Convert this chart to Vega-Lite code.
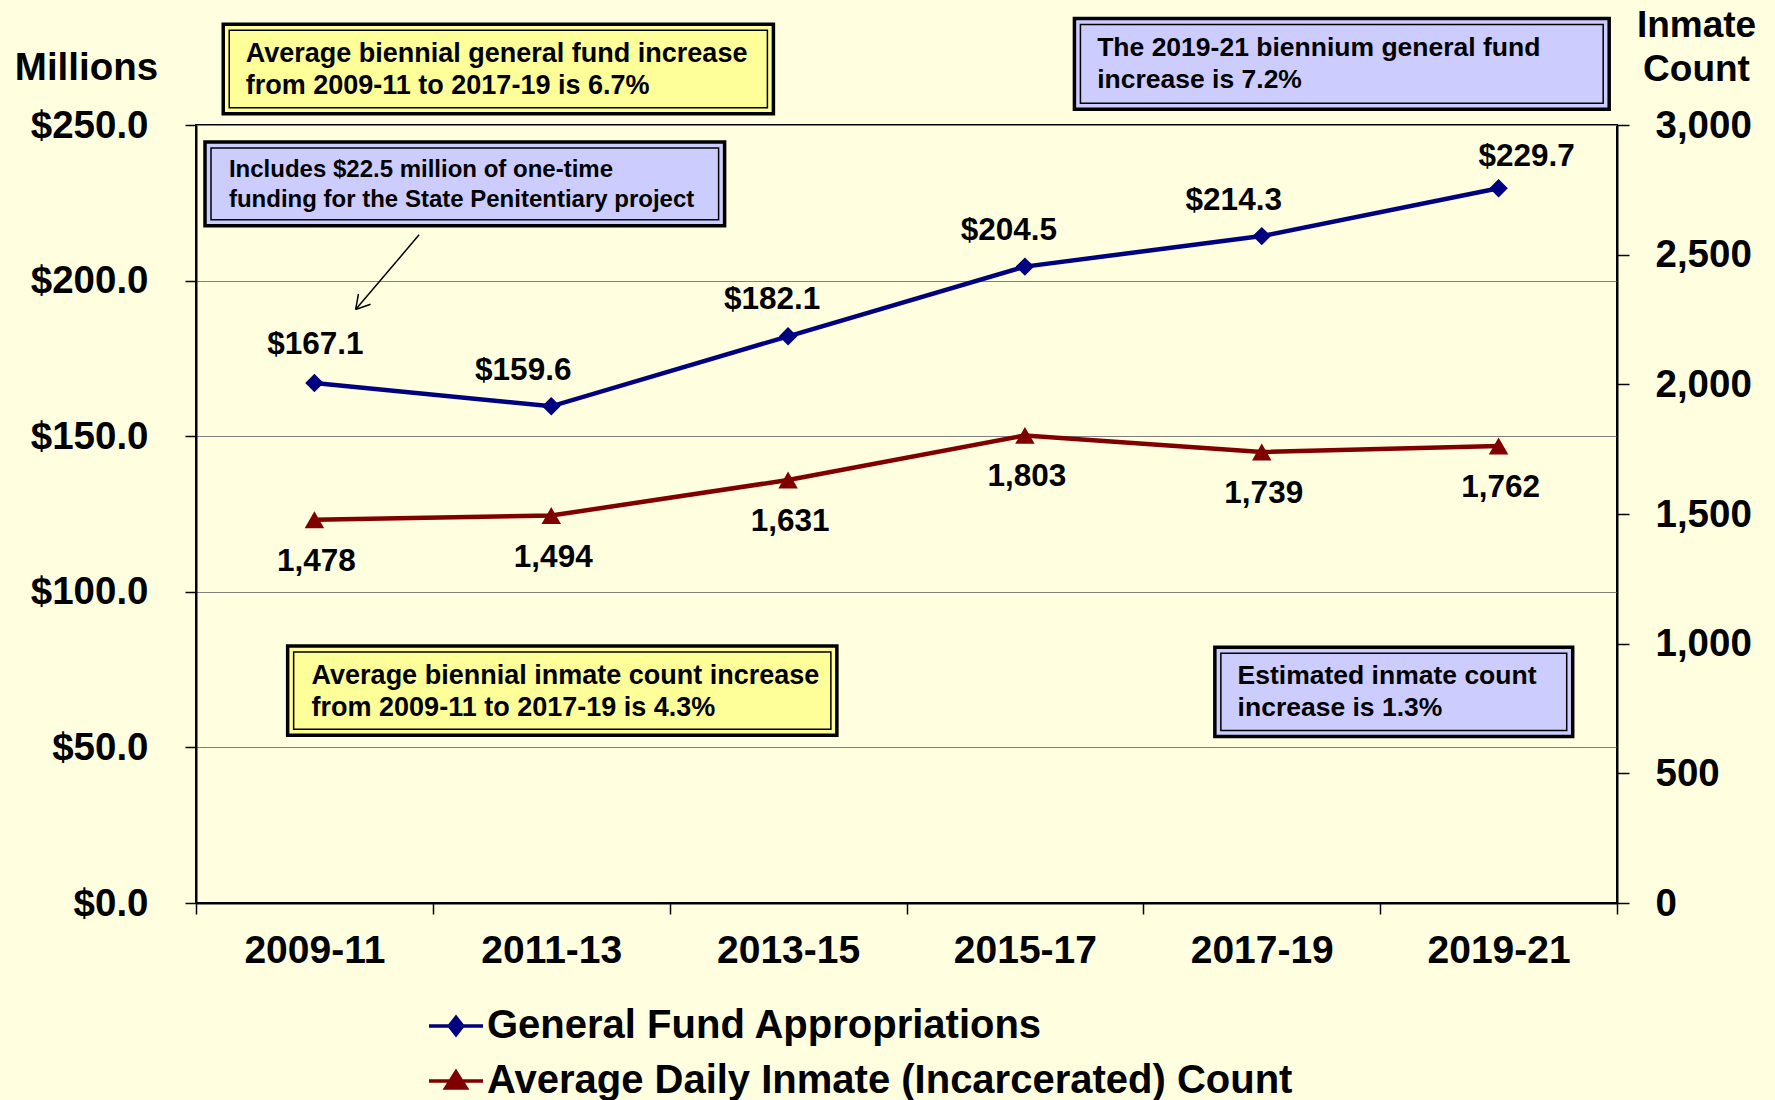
{
  "$schema": "https://vega.github.io/schema/vega-lite/v6.json",
  "width": 1421,
  "height": 778,
  "autosize": {"type": "none"},
  "padding": {"left": 196, "top": 125, "right": 158, "bottom": 197},
  "background": "#FFFFE0",
  "config": {
    "font": "Liberation Sans",
    "view": {"stroke": "#000000", "strokeWidth": 2},
    "axis": {
      "labelFont": "Liberation Sans",
      "labelFontWeight": "bold",
      "labelColor": "#000000",
      "titleFont": "Liberation Sans",
      "titleFontWeight": "bold",
      "titleColor": "#000000",
      "domainColor": "#000000",
      "domainWidth": 2,
      "tickColor": "#000000",
      "tickWidth": 1.5
    },
    "text": {"font": "Liberation Sans", "fontWeight": "bold", "color": "#000000"}
  },
  "datasets": {
    "biennia": [
      {"biennium": "2009-11", "fund": 167.1, "inmates": 1478},
      {"biennium": "2011-13", "fund": 159.6, "inmates": 1494},
      {"biennium": "2013-15", "fund": 182.1, "inmates": 1631},
      {"biennium": "2015-17", "fund": 204.5, "inmates": 1803},
      {"biennium": "2017-19", "fund": 214.3, "inmates": 1739},
      {"biennium": "2019-21", "fund": 229.7, "inmates": 1762}
    ]
  },
  "layer": [
    {
      "data": {"name": "biennia"},
      "encoding": {
        "x": {
          "field": "biennium", "type": "nominal", "sort": null,
          "scale": {"type": "band", "paddingInner": 0, "paddingOuter": 0},
          "axis": {"title": null, "labelAngle": 0, "labelFontSize": 39, "tickBand": "extent", "tickSize": 11, "labelPadding": 17}
        },
        "y": {
          "field": "fund", "type": "quantitative",
          "scale": {"domain": [0, 250], "nice": false, "zero": true},
          "axis": {
            "orient": "left", "values": [0, 50, 100, 150, 200, 250], "format": "$.1f",
            "labelFontSize": 38.5, "tickSize": 11, "labelPadding": 37,
            "grid": true, "gridColor": "#808080", "gridWidth": 1,
            "title": "Millions", "titleAngle": 0, "titleAlign": "center", "titleBaseline": "middle",
            "titleX": -110, "titleY": -58, "titleFontSize": 38.5
          }
        }
      },
      "layer": [
        {
          "mark": {"type": "line", "strokeWidth": 4.5, "point": {"shape": "diamond", "filled": true, "size": 340}},
          "encoding": {
            "color": {
              "datum": "General Fund Appropriations",
              "scale": {"domain": ["General Fund Appropriations", "Average Daily Inmate (Incarcerated) Count"], "range": ["#000080", "#800000"]},
              "legend": {
                "orient": "none", "legendX": 231, "legendY": 872, "direction": "vertical", "title": null,
                "labelFontSize": 40, "labelFont": "Liberation Sans", "labelFontWeight": "bold", "labelColor": "#000000",
                "symbolSize": 2916, "symbolStrokeWidth": 3.5, "labelOffset": 2, "padding": 0, "rowPadding": 6, "labelLimit": 1200,
                "encode": {
                  "symbols": {
                    "update": {
                      "shape": {"signal": "datum.value === 'General Fund Appropriations' ? 'M-1,0L1,0M0,-0.32L0.25,0L0,0.32L-0.25,0Z' : 'M-1,0L1,0M0,-0.34L0.38,0.26L-0.38,0.26Z'"},
                      "fill": {"signal": "datum.value === 'General Fund Appropriations' ? '#000080' : '#800000'"},
                      "stroke": {"signal": "datum.value === 'General Fund Appropriations' ? '#000080' : '#800000'"},
                      "strokeWidth": {"value": 3.5},
                      "opacity": {"value": 1},
                      "fillOpacity": {"value": 1}
                    }
                  }
                }
              }
            }
          }
        },
        {
          "transform": [{"filter": "datum.biennium == '2009-11'"}],
          "mark": {"type": "text", "dy": -38, "dx": 1, "fontSize": 31.5, "fontWeight": "bold", "baseline": "middle"},
          "encoding": {"text": {"field": "fund", "type": "quantitative", "format": "$.1f"}}
        },
        {
          "transform": [{"filter": "datum.biennium == '2011-13' || datum.biennium == '2017-19'"}],
          "mark": {"type": "text", "dy": -35, "dx": -28, "fontSize": 31.5, "fontWeight": "bold", "baseline": "middle"},
          "encoding": {"text": {"field": "fund", "type": "quantitative", "format": "$.1f"}}
        },
        {
          "transform": [{"filter": "datum.biennium == '2013-15' || datum.biennium == '2015-17'"}],
          "mark": {"type": "text", "dy": -36, "dx": -16, "fontSize": 31.5, "fontWeight": "bold", "baseline": "middle"},
          "encoding": {"text": {"field": "fund", "type": "quantitative", "format": "$.1f"}}
        },
        {
          "transform": [{"filter": "datum.biennium == '2019-21'"}],
          "mark": {"type": "text", "dy": -31, "dx": 28, "fontSize": 31.5, "fontWeight": "bold", "baseline": "middle"},
          "encoding": {"text": {"field": "fund", "type": "quantitative", "format": "$.1f"}}
        }
      ]
    },
    {
      "data": {"name": "biennia"},
      "encoding": {
        "x": {
          "field": "biennium", "type": "nominal", "sort": null,
          "scale": {"type": "band", "paddingInner": 0, "paddingOuter": 0},
          "axis": null
        },
        "y": {
          "field": "inmates", "type": "quantitative",
          "scale": {"domain": [0, 3000], "nice": false, "zero": true},
          "axis": {
            "orient": "right", "values": [0, 500, 1000, 1500, 2000, 2500, 3000], "format": ",d",
            "labelFontSize": 38.5, "tickSize": 12, "labelPadding": 26, "labelAlign": "left", "grid": false,
            "title": ["Inmate", "Count"], "titleAngle": 0, "titleAlign": "center", "titleBaseline": "middle",
            "titleX": 79, "titleY": -100, "titleFontSize": 37, "titleLineHeight": 44
          }
        }
      },
      "layer": [
        {
          "mark": {"type": "line", "strokeWidth": 4.5, "point": {"shape": "triangle-up", "filled": true, "size": 380}},
          "encoding": {
            "color": {"datum": "Average Daily Inmate (Incarcerated) Count"}
          }
        },
        {
          "mark": {"type": "text", "dy": 42, "dx": 2, "fontSize": 31.5, "fontWeight": "bold", "baseline": "middle"},
          "encoding": {"text": {"field": "inmates", "type": "quantitative", "format": ",d"}}
        }
      ]
    },
    {
      "data": {"values": [{}]},
      "layer": [
        {
          "mark": {"type": "rect", "fill": "#FFFF99", "stroke": "#000000", "strokeWidth": 3.5},
          "encoding": {
            "x": {"datum": 0.115, "type": "quantitative", "scale": {"domain": [0, 6], "nice": false, "zero": false}, "axis": null},
            "x2": {"datum": 2.438},
            "y": {"datum": 282.4, "type": "quantitative", "scale": {"domain": [0, 250], "nice": false, "zero": false}, "axis": null},
            "y2": {"datum": 253.6}
          }
        },
        {
          "mark": {"type": "rect", "fillOpacity": 0, "stroke": "#000000", "strokeWidth": 1.5, "xOffset": 6, "x2Offset": -6, "yOffset": 6, "y2Offset": -6},
          "encoding": {
            "x": {"datum": 0.115, "type": "quantitative", "scale": {"domain": [0, 6], "nice": false, "zero": false}, "axis": null},
            "x2": {"datum": 2.438},
            "y": {"datum": 282.4, "type": "quantitative", "scale": {"domain": [0, 250], "nice": false, "zero": false}, "axis": null},
            "y2": {"datum": 253.6}
          }
        },
        {
          "mark": {"type": "text", "text": ["Average biennial general fund increase", "from 2009-11 to 2017-19 is 6.7%"], "align": "left", "baseline": "middle", "fontSize": 27, "fontWeight": "bold", "lineHeight": 32},
          "encoding": {
            "x": {"datum": 0.21, "type": "quantitative", "scale": {"domain": [0, 6], "nice": false, "zero": false}, "axis": null},
            "y": {"datum": 272.9, "type": "quantitative", "scale": {"domain": [0, 250], "nice": false, "zero": false}, "axis": null}
          }
        },
        {
          "mark": {"type": "rect", "fill": "#CCCCFF", "stroke": "#000000", "strokeWidth": 3.5},
          "encoding": {
            "x": {"datum": 3.709, "type": "quantitative", "scale": {"domain": [0, 6], "nice": false, "zero": false}, "axis": null},
            "x2": {"datum": 5.967},
            "y": {"datum": 284.2, "type": "quantitative", "scale": {"domain": [0, 250], "nice": false, "zero": false}, "axis": null},
            "y2": {"datum": 255.1}
          }
        },
        {
          "mark": {"type": "rect", "fillOpacity": 0, "stroke": "#000000", "strokeWidth": 1.5, "xOffset": 6, "x2Offset": -6, "yOffset": 6, "y2Offset": -6},
          "encoding": {
            "x": {"datum": 3.709, "type": "quantitative", "scale": {"domain": [0, 6], "nice": false, "zero": false}, "axis": null},
            "x2": {"datum": 5.967},
            "y": {"datum": 284.2, "type": "quantitative", "scale": {"domain": [0, 250], "nice": false, "zero": false}, "axis": null},
            "y2": {"datum": 255.1}
          }
        },
        {
          "mark": {"type": "text", "text": ["The 2019-21 biennium general fund", "increase is 7.2%"], "align": "left", "baseline": "middle", "fontSize": 26.5, "fontWeight": "bold", "lineHeight": 32},
          "encoding": {
            "x": {"datum": 3.805, "type": "quantitative", "scale": {"domain": [0, 6], "nice": false, "zero": false}, "axis": null},
            "y": {"datum": 274.7, "type": "quantitative", "scale": {"domain": [0, 250], "nice": false, "zero": false}, "axis": null}
          }
        },
        {
          "mark": {"type": "rect", "fill": "#CCCCFF", "stroke": "#000000", "strokeWidth": 3.5},
          "encoding": {
            "x": {"datum": 0.038, "type": "quantitative", "scale": {"domain": [0, 6], "nice": false, "zero": false}, "axis": null},
            "x2": {"datum": 2.232},
            "y": {"datum": 244.5, "type": "quantitative", "scale": {"domain": [0, 250], "nice": false, "zero": false}, "axis": null},
            "y2": {"datum": 217.6}
          }
        },
        {
          "mark": {"type": "rect", "fillOpacity": 0, "stroke": "#000000", "strokeWidth": 1.5, "xOffset": 6, "x2Offset": -6, "yOffset": 6, "y2Offset": -6},
          "encoding": {
            "x": {"datum": 0.038, "type": "quantitative", "scale": {"domain": [0, 6], "nice": false, "zero": false}, "axis": null},
            "x2": {"datum": 2.232},
            "y": {"datum": 244.5, "type": "quantitative", "scale": {"domain": [0, 250], "nice": false, "zero": false}, "axis": null},
            "y2": {"datum": 217.6}
          }
        },
        {
          "mark": {"type": "text", "text": ["Includes $22.5 million of one-time", "funding for the State Penitentiary project"], "align": "left", "baseline": "middle", "fontSize": 24, "fontWeight": "bold", "lineHeight": 29.5},
          "encoding": {
            "x": {"datum": 0.139, "type": "quantitative", "scale": {"domain": [0, 6], "nice": false, "zero": false}, "axis": null},
            "y": {"datum": 235.4, "type": "quantitative", "scale": {"domain": [0, 250], "nice": false, "zero": false}, "axis": null}
          }
        },
        {
          "mark": {"type": "rect", "fill": "#FFFF99", "stroke": "#000000", "strokeWidth": 3.5},
          "encoding": {
            "x": {"datum": 0.387, "type": "quantitative", "scale": {"domain": [0, 6], "nice": false, "zero": false}, "axis": null},
            "x2": {"datum": 2.706},
            "y": {"datum": 82.6, "type": "quantitative", "scale": {"domain": [0, 250], "nice": false, "zero": false}, "axis": null},
            "y2": {"datum": 53.9}
          }
        },
        {
          "mark": {"type": "rect", "fillOpacity": 0, "stroke": "#000000", "strokeWidth": 1.5, "xOffset": 6, "x2Offset": -6, "yOffset": 6, "y2Offset": -6},
          "encoding": {
            "x": {"datum": 0.387, "type": "quantitative", "scale": {"domain": [0, 6], "nice": false, "zero": false}, "axis": null},
            "x2": {"datum": 2.706},
            "y": {"datum": 82.6, "type": "quantitative", "scale": {"domain": [0, 250], "nice": false, "zero": false}, "axis": null},
            "y2": {"datum": 53.9}
          }
        },
        {
          "mark": {"type": "text", "text": ["Average biennial inmate count increase", "from 2009-11 to 2017-19 is 4.3%"], "align": "left", "baseline": "middle", "fontSize": 27, "fontWeight": "bold", "lineHeight": 32},
          "encoding": {
            "x": {"datum": 0.488, "type": "quantitative", "scale": {"domain": [0, 6], "nice": false, "zero": false}, "axis": null},
            "y": {"datum": 73.1, "type": "quantitative", "scale": {"domain": [0, 250], "nice": false, "zero": false}, "axis": null}
          }
        },
        {
          "mark": {"type": "rect", "fill": "#CCCCFF", "stroke": "#000000", "strokeWidth": 3.5},
          "encoding": {
            "x": {"datum": 4.302, "type": "quantitative", "scale": {"domain": [0, 6], "nice": false, "zero": false}, "axis": null},
            "x2": {"datum": 5.813},
            "y": {"datum": 82.2, "type": "quantitative", "scale": {"domain": [0, 250], "nice": false, "zero": false}, "axis": null},
            "y2": {"datum": 53.5}
          }
        },
        {
          "mark": {"type": "rect", "fillOpacity": 0, "stroke": "#000000", "strokeWidth": 1.5, "xOffset": 6, "x2Offset": -6, "yOffset": 6, "y2Offset": -6},
          "encoding": {
            "x": {"datum": 4.302, "type": "quantitative", "scale": {"domain": [0, 6], "nice": false, "zero": false}, "axis": null},
            "x2": {"datum": 5.813},
            "y": {"datum": 82.2, "type": "quantitative", "scale": {"domain": [0, 250], "nice": false, "zero": false}, "axis": null},
            "y2": {"datum": 53.5}
          }
        },
        {
          "mark": {"type": "text", "text": ["Estimated inmate count", "increase is 1.3%"], "align": "left", "baseline": "middle", "fontSize": 26.5, "fontWeight": "bold", "lineHeight": 32},
          "encoding": {
            "x": {"datum": 4.398, "type": "quantitative", "scale": {"domain": [0, 6], "nice": false, "zero": false}, "axis": null},
            "y": {"datum": 72.8, "type": "quantitative", "scale": {"domain": [0, 250], "nice": false, "zero": false}, "axis": null}
          }
        },
        {
          "mark": {"type": "rule", "stroke": "#000000", "strokeWidth": 1.5},
          "encoding": {
            "x": {"datum": 0.942, "type": "quantitative", "scale": {"domain": [0, 6], "nice": false, "zero": false}, "axis": null},
            "x2": {"datum": 0.674},
            "y": {"datum": 214.7, "type": "quantitative", "scale": {"domain": [0, 250], "nice": false, "zero": false}, "axis": null},
            "y2": {"datum": 190.7}
          }
        },
        {
          "mark": {"type": "rule", "stroke": "#000000", "strokeWidth": 1.5},
          "encoding": {
            "x": {"datum": 0.674, "type": "quantitative", "scale": {"domain": [0, 6], "nice": false, "zero": false}, "axis": null},
            "x2": {"datum": 0.737},
            "y": {"datum": 190.7, "type": "quantitative", "scale": {"domain": [0, 250], "nice": false, "zero": false}, "axis": null},
            "y2": {"datum": 192.4}
          }
        },
        {
          "mark": {"type": "rule", "stroke": "#000000", "strokeWidth": 1.5},
          "encoding": {
            "x": {"datum": 0.674, "type": "quantitative", "scale": {"domain": [0, 6], "nice": false, "zero": false}, "axis": null},
            "x2": {"datum": 0.686},
            "y": {"datum": 190.7, "type": "quantitative", "scale": {"domain": [0, 250], "nice": false, "zero": false}, "axis": null},
            "y2": {"datum": 195.7}
          }
        }
      ]
    }
  ],
  "resolve": {"scale": {"x": "independent", "y": "independent"}}
}
